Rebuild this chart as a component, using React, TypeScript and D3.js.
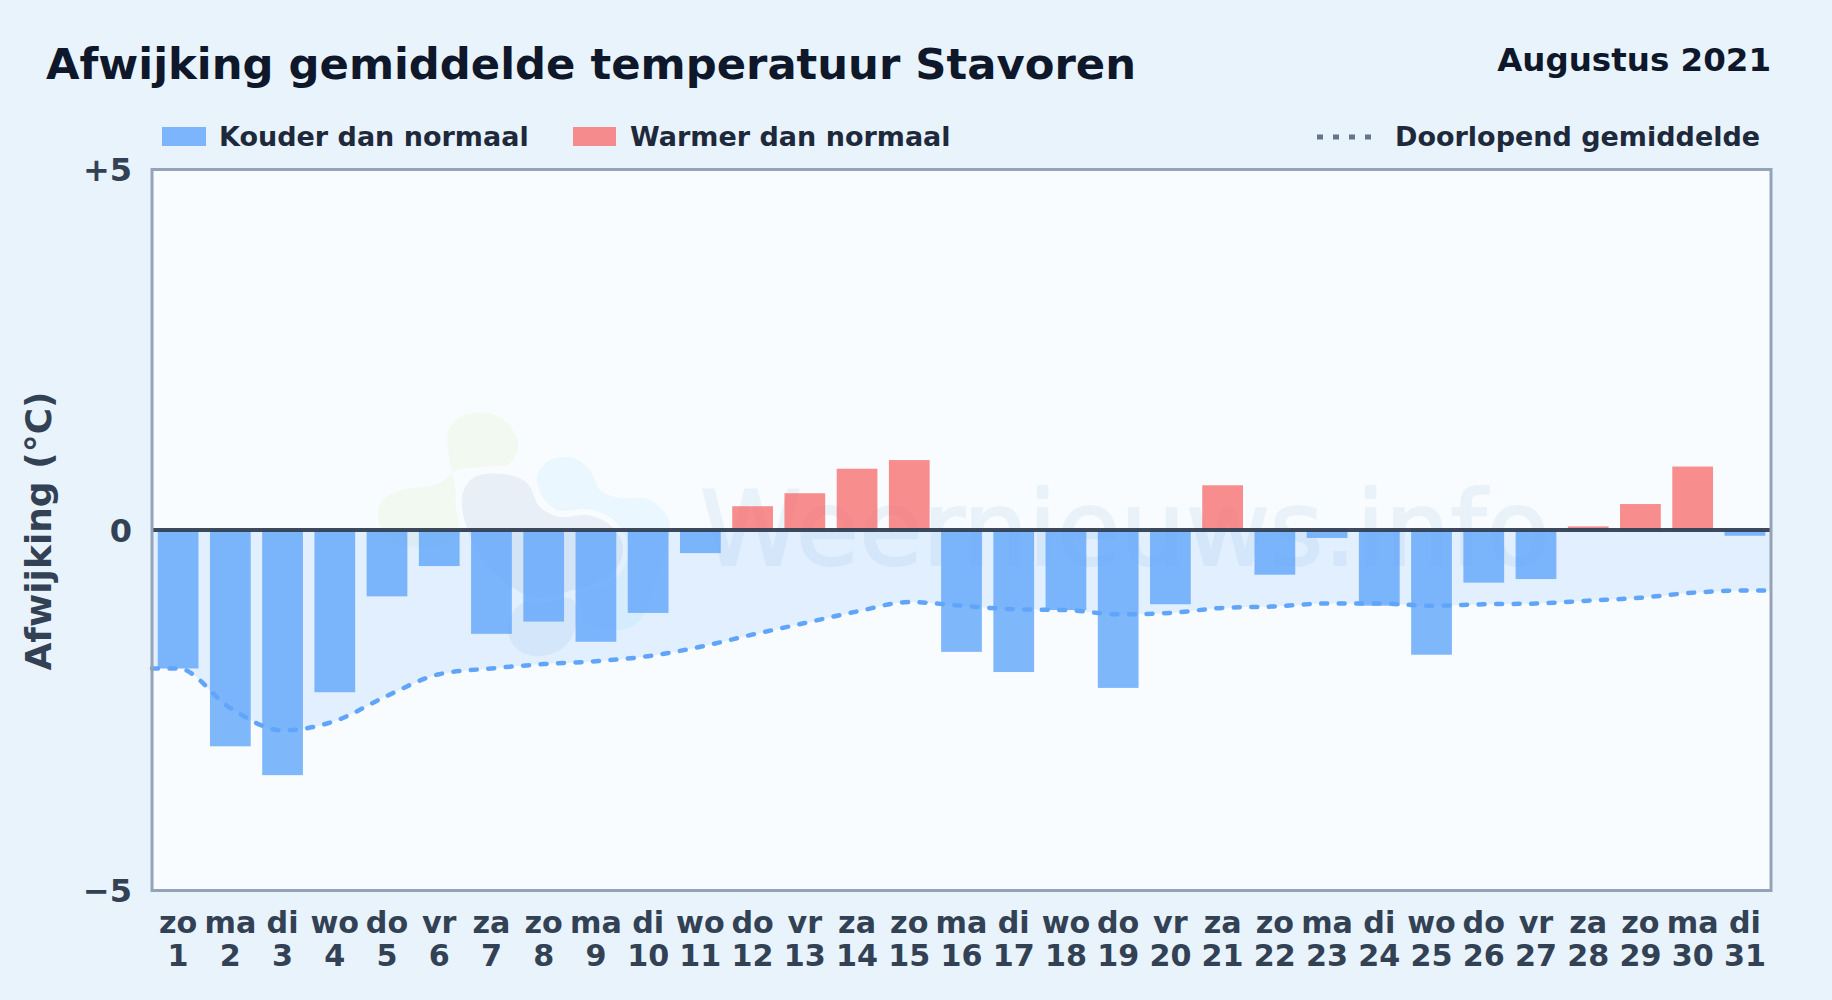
// @ts-nocheck
import * as d3 from "d3";

const WIDTH = 1832;
const HEIGHT = 1000;
const FONT = "'DejaVu Sans', sans-serif";

const weekdays = ["zo","ma","di","wo","do","vr","za","zo","ma","di","wo","do","vr","za","zo","ma","di","wo","do","vr","za","zo","ma","di","wo","do","vr","za","zo","ma","di"];
const days = d3.range(1, 32);
const deviation = [-1.92,-3.0,-3.4,-2.25,-0.92,-0.5,-1.44,-1.27,-1.55,-1.15,-0.32,0.33,0.51,0.85,0.97,-1.69,-1.97,-1.11,-2.19,-1.03,0.62,-0.62,-0.11,-1.05,-1.73,-0.73,-0.68,0.05,0.36,0.88,-0.08];
const runningMean = [-1.92,-2.47,-2.78,-2.65,-2.3,-2.0,-1.92,-1.86,-1.82,-1.75,-1.62,-1.45,-1.29,-1.13,-1.0,-1.05,-1.1,-1.11,-1.17,-1.15,-1.08,-1.06,-1.02,-1.02,-1.05,-1.03,-1.02,-0.98,-0.94,-0.87,-0.84];
const yTicks = [5, 0, -5];
const yTickLabels = ["+5", "0", "−5"];

// watermark logo outlines
const logoGreen = [[448,433],[460,417],[487,413],[507,423],[518,443],[510,463],[483,467],[457,470],[440,483],[403,490],[383,500],[378,517],[390,540],[427,547],[457,533]];
const logoBlue = [[537,477],[550,460],[573,458],[590,470],[600,490],[620,498],[647,499],[665,513],[670,530],[660,567],[640,620],[620,630],[587,623],[570,597],[593,573],[617,543],[600,520],[567,513],[547,503]];
const logoGrey = [[462,497],[473,478],[503,474],[527,483],[540,507],[560,517],[587,515],[610,525],[623,547],[613,573],[573,590],[533,597],[503,580],[473,543]];
const logoLow = [[508,630],[517,607],[547,597],[573,600],[575,630],[560,650],[533,656],[515,647]];

const plot = { left: 152, right: 1771, top: 169.5, bottom: 890.5 };

export default function App() {
    const x = d3.scaleBand().domain(days).range([plot.left, plot.right]).paddingInner(0.22).paddingOuter(0.11);
    const y = d3.scaleLinear().domain([-5, 5]).range([plot.bottom, plot.top]);
    const center = (d) => x(d) + x.bandwidth() / 2;

    // the mean runs on to both edges of the plot
    const meanPoints = [
        [plot.left, runningMean[0]],
        ...days.map((d, i) => [center(d), runningMean[i]]),
        [plot.right, runningMean[runningMean.length - 1]],
    ];
    const meanLine = d3.line().x((d) => d[0]).y((d) => y(d[1])).curve(d3.curveMonotoneX);
    const meanArea = d3.area().x((d) => d[0]).y0(y(0)).y1((d) => y(d[1])).curve(d3.curveMonotoneX);
    const blob = d3.line().curve(d3.curveCatmullRomClosed.alpha(0.5));

    const logos = [
        { pts: logoGreen, fill: "#84cc16", op: 0.06 },
        { pts: logoBlue, fill: "#38bdf8", op: 0.07 },
        { pts: logoLow, fill: "#2563a8", op: 0.07 },
        { pts: logoGrey, fill: "#3b5f94", op: 0.08 },
    ];

    return (
        <svg
            width={WIDTH}
            height={HEIGHT}
            viewBox={`0 0 ${WIDTH} ${HEIGHT}`}
            style={{ position: "absolute", left: 0, top: 0, display: "block" }}
            fontFamily={FONT}
            fontWeight="bold"
        >
            <rect width={WIDTH} height={HEIGHT} fill="#e8f3fc" />

            <text x={46} y={79} fontSize={43.3} fill="#0f172a">Afwijking gemiddelde temperatuur Stavoren</text>
            <text x={1771} y={71} fontSize={32.5} fill="#0f172a" textAnchor="end">Augustus 2021</text>

            {/* legend */}
            <rect x={162} y={127} width={44} height={19} fill="#60a5fa" opacity={0.8} />
            <text x={219} y={146} fontSize={27} fill="#1e293b">Kouder dan normaal</text>
            <rect x={573} y={127} width={43} height={19} fill="#f87171" opacity={0.8} />
            <text x={630} y={146} fontSize={27} fill="#1e293b">Warmer dan normaal</text>
            <line x1={1317} x2={1373} y1={137} y2={137} stroke="#64748b" strokeWidth={5} strokeDasharray="6 10" />
            <text x={1395} y={146} fontSize={27} fill="#1e293b">Doorlopend gemiddelde</text>

            {/* plot */}
            <rect x={plot.left} y={plot.top} width={plot.right - plot.left} height={plot.bottom - plot.top} fill="#f8fcff" />

            {/* watermark */}
            <g>
                {logos.map((l, i) => (
                    <g key={i}>
                        <path d={blob(l.pts)} fill="#f8fcff" stroke="#f8fcff" strokeWidth={12} />
                        <path d={blob(l.pts)} fill={l.fill} opacity={l.op} />
                    </g>
                ))}
                <text x={700} y={565} fontSize={103} fontWeight="normal" fill="#2f6db5" opacity={0.07} stroke="#2f6db5" strokeWidth={2}>Weernieuws.info</text>
            </g>

            <path d={meanArea(meanPoints)} fill="#60a5fa" opacity={0.15} />

            {days.map((d, i) => {
                const v = deviation[i];
                return (
                    <rect
                        key={d}
                        x={x(d)}
                        y={v < 0 ? y(0) : y(v)}
                        width={x.bandwidth()}
                        height={Math.abs(y(v) - y(0))}
                        fill={v < 0 ? "#60a5fa" : "#f87171"}
                        opacity={0.8}
                    />
                );
            })}

            <path d={meanLine(meanPoints)} fill="none" stroke="#60a5fa" strokeWidth={4.5} strokeDasharray="6 11.5" strokeLinecap="round" />

            <line x1={plot.left} x2={plot.right} y1={y(0)} y2={y(0)} stroke="#334155" strokeWidth={4} opacity={0.95} />
            <rect x={plot.left} y={plot.top} width={plot.right - plot.left} height={plot.bottom - plot.top} fill="none" stroke="#94a3b8" strokeWidth={3} />

            {/* y axis */}
            {yTicks.map((t, i) => (
                <text key={t} x={132} y={y(t) + 11.5} fontSize={32} fill="#334155" textAnchor="end">{yTickLabels[i]}</text>
            ))}
            <text transform={`translate(51,531) rotate(-90)`} fontSize={36} fill="#334155" textAnchor="middle">Afwijking (°C)</text>

            {/* x axis */}
            {days.map((d, i) => (
                <g key={d} fontSize={30.2} fill="#334155" textAnchor="middle">
                    <text x={center(d)} y={933}>{weekdays[i]}</text>
                    <text x={center(d)} y={966}>{d}</text>
                </g>
            ))}
        </svg>
    );
}
